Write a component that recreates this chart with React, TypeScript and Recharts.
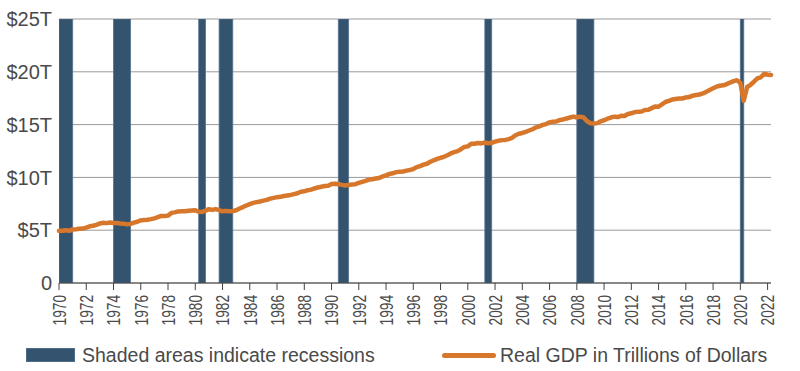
import React from "react";
import {
  ComposedChart,
  Line,
  XAxis,
  YAxis,
  CartesianGrid,
  ReferenceArea,
  Legend,
} from "recharts";

// Real GDP, trillions of chained dollars, quarterly (Q1..Q4) starting 1970 Q1
const firstYear = 1970;
const gdp1970s = [
  4.94, 4.95, 4.99, 4.94, 5.07, 5.1, 5.14, 5.15, 5.25, 5.37, 5.42, 5.51,
  5.64, 5.7, 5.67, 5.73, 5.68, 5.69, 5.64, 5.62, 5.55, 5.59, 5.71, 5.8,
  5.93, 5.97, 5.99, 6.05, 6.12, 6.23, 6.35, 6.34, 6.38, 6.64, 6.69, 6.78,
  6.79, 6.79, 6.85, 6.87,
];
const gdp1980s = [
  6.89, 6.75, 6.73, 6.85, 6.99, 6.92, 7.0, 6.9, 6.79, 6.83, 6.8, 6.8,
  6.89, 7.05, 7.19, 7.34, 7.47, 7.59, 7.66, 7.72, 7.8, 7.87, 7.99, 8.06,
  8.13, 8.16, 8.24, 8.29, 8.34, 8.42, 8.5, 8.64, 8.68, 8.79, 8.84, 8.95,
  9.05, 9.12, 9.18, 9.2,
];
const gdp1990s = [
  9.37, 9.4, 9.38, 9.29, 9.24, 9.29, 9.33, 9.36, 9.48, 9.58, 9.68, 9.79,
  9.83, 9.89, 9.95, 10.09, 10.19, 10.33, 10.39, 10.5, 10.54, 10.56, 10.64,
  10.7, 10.79, 10.97, 11.07, 11.21, 11.29, 11.48, 11.62, 11.75, 11.86,
  11.95, 12.1, 12.27, 12.39, 12.49, 12.67, 12.88,
];
const gdp2000s = [
  12.94, 13.19, 13.19, 13.26, 13.22, 13.3, 13.24, 13.28, 13.39, 13.47,
  13.53, 13.55, 13.63, 13.75, 13.99, 14.13, 14.21, 14.32, 14.44, 14.56,
  14.74, 14.84, 14.97, 15.05, 15.21, 15.28, 15.3, 15.43, 15.49, 15.58,
  15.67, 15.76, 15.67, 15.75, 15.67, 15.33, 15.13, 15.1, 15.14, 15.31,
];
const gdp2010s = [
  15.41, 15.56, 15.67, 15.75, 15.71, 15.83, 15.81, 16.0, 16.07, 16.18,
  16.22, 16.24, 16.38, 16.4, 16.56, 16.72, 16.7, 16.91, 17.14, 17.25,
  17.37, 17.43, 17.47, 17.47, 17.57, 17.61, 17.74, 17.8, 17.85, 17.95,
  18.1, 18.28, 18.44, 18.59, 18.68, 18.72, 18.83, 18.98, 19.11, 19.2,
];
const gdp2020s = [18.95, 17.26, 18.56, 18.77, 19.06, 19.37, 19.48, 19.81, 19.73, 19.7];

// Recessions (start, end) in fractional years
const recessionStarts = [1970, 1974, 1980.25, 1981.75, 1990.5, 2001.25, 2008, 2020];
const recessionEnds = [1971, 1975.25, 1980.75, 1982.75, 1991.25, 2001.75, 2009.25, 2020.25];

const xTicks = [
  1970, 1972, 1974, 1976, 1978, 1980, 1982, 1984, 1986, 1988, 1990, 1992,
  1994, 1996, 1998, 2000, 2002, 2004, 2006, 2008, 2010, 2012, 2014, 2016,
  2018, 2020, 2022,
];
const yTicks = [0, 5, 10, 15, 20, 25];
const legendLabels = ["Shaded areas indicate recessions", "Real GDP in Trillions of Dollars"];

const allGdp = [...gdp1970s, ...gdp1980s, ...gdp1990s, ...gdp2000s, ...gdp2010s, ...gdp2020s];
const data = allGdp.map((v, i) => ({ t: firstYear + i / 4, gdp: v }));
const lastT = firstYear + (allGdp.length - 1) / 4;

const BAR = "#33536F";
const ORANGE = "#D7772B";
const TEXT = "#4A4A4A";
const FONT = "'Liberation Sans', Arial, sans-serif";

const XTick = (props: any) => {
  const { x, y, payload } = props;
  return (
    <text
      transform={`translate(${x + 6.8}, ${y}) rotate(-90) scale(0.72, 1)`}
      textAnchor="end"
      fontSize={19}
      fontFamily={FONT}
      fill={TEXT}
    >
      {payload.value}
    </text>
  );
};

const LegendContent = () => (
  <div style={{ position: "relative", width: 800, height: 30, fontFamily: FONT }}>
    <div
      style={{
        position: "absolute",
        left: 26,
        top: 8,
        width: 49,
        height: 14,
        background: BAR,
        boxShadow: "inset 0 0 0 1px #4f6c88",
      }}
    />
    <span
      style={{
        position: "absolute",
        left: 82,
        top: 5,
        fontSize: 19.5,
        lineHeight: "20px",
        color: TEXT,
        whiteSpace: "nowrap",
      }}
    >
      {legendLabels[0]}
    </span>
    <div
      style={{
        position: "absolute",
        left: 442,
        top: 12.5,
        width: 54,
        height: 5,
        borderRadius: 3,
        background: ORANGE,
      }}
    />
    <span
      style={{
        position: "absolute",
        left: 500,
        top: 5,
        fontSize: 19.5,
        lineHeight: "20px",
        color: TEXT,
        whiteSpace: "nowrap",
      }}
    >
      {legendLabels[1]}
    </span>
  </div>
);

export default function App() {
  return (
    <div style={{ position: "absolute", left: 0, top: 0, width: 800, height: 371, background: "#fff" }}>
      <ComposedChart
        width={800}
        height={371}
        data={data}
        margin={{ top: 19, right: 29, bottom: 28, left: 0 }}
      >
        <CartesianGrid vertical={false} stroke="#9a9a9a" strokeWidth={1} />
        <XAxis
          dataKey="t"
          type="number"
          domain={[firstYear, lastT]}
          ticks={xTicks}
          interval={0}
          height={60}
          tick={<XTick />}
          tickSize={7}
          tickMargin={5}
          stroke="#444"
          tickLine={{ stroke: "#444" }}
          axisLine={{ stroke: "#444", strokeWidth: 1.2 }}
        />
        <YAxis
          type="number"
          domain={[0, 25]}
          ticks={yTicks}
          width={59}
          axisLine={false}
          tickLine={false}
          tickSize={0}
          tickMargin={7}
          tick={{ fill: TEXT, fontSize: 20, fontFamily: FONT }}
          tickFormatter={(v: number) => (v === 0 ? "0" : `$${v}T`)}
        />
        {recessionStarts.map((s, i) => (
          <ReferenceArea
            key={i}
            x1={s}
            x2={recessionEnds[i]}
            y1={0}
            y2={25}
            fill={BAR}
            fillOpacity={1}
            stroke="#56718c"
            strokeWidth={0.8}
            ifOverflow="hidden"
          />
        ))}
        <Line
          type="linear"
          dataKey="gdp"
          stroke={ORANGE}
          strokeWidth={4.5}
          dot={false}
          activeDot={false}
          isAnimationActive={false}
          strokeLinejoin="round"
          strokeLinecap="round"
        />
        <Legend
          layout="horizontal"
          verticalAlign="middle"
          align="center"
          wrapperStyle={{ top: 340, left: 0, width: 800, height: 30 }}
          content={<LegendContent />}
        />
      </ComposedChart>
    </div>
  );
}
